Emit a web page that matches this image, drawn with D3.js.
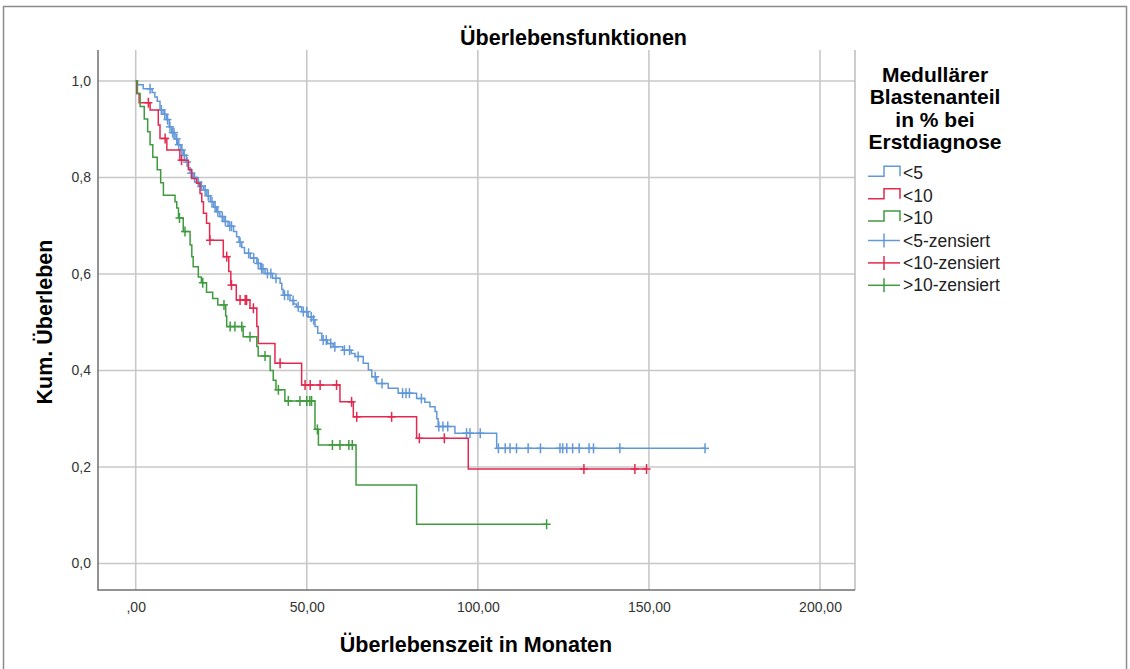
<!DOCTYPE html>
<html><head><meta charset="utf-8">
<script src="https://cdn.jsdelivr.net/npm/d3@7"></script>
<style>body{margin:0;background:#fff;} svg{display:block;font-family:Arial,"Liberation Sans",sans-serif;}</style>
</head><body><svg id="c" width="1130" height="669"></svg>
<script>
// ---------- data ----------
const groupNames = ["<5", "<10", ">10"];
const legendTitleLines = ["Medullärer", "Blastenanteil", "in % bei", "Erstdiagnose"];
const xTicks = [0, 50, 100, 150, 200];
const xTickLabels = [",00", "50,00", "100,00", "150,00", "200,00"];
const yTicks = [0, 0.2, 0.4, 0.6, 0.8, 1.0];
const yTickLabels = ["0,0", "0,2", "0,4", "0,6", "0,8", "1,0"];

// group <5
const lt5EventTimes = [0.5,2.2,4.8,5.6,6.3,7.1,8.0,9.0,9.8,10.5,11.5,12.3,13.2,13.9,14.8,15.4,15.9,16.8,17.8,18.8,19.8,20.8,21.8,22.8,23.6,24.6,25.8,27,28.6,29.5,30.2,31,31.8,33.5,35.4,36.5,37.8,40,42.2,42.7,43.1,45.1,46.2,47,48.5,50.4,51.9,52.4,53.2,54.4,56,57.7,60.5,63,64.1,66.5,68,69,70.4,73.8,76.7,82.1,84.5,86,87.5,88,88.4,93.3,105.5];
const lt5Survival = [0.992,0.984,0.976,0.967,0.958,0.94,0.931,0.92,0.905,0.893,0.88,0.868,0.857,0.846,0.832,0.82,0.809,0.80,0.79,0.782,0.774,0.762,0.75,0.739,0.729,0.719,0.709,0.699,0.688,0.677,0.666,0.655,0.643,0.633,0.622,0.611,0.601,0.591,0.581,0.568,0.556,0.545,0.538,0.532,0.522,0.511,0.505,0.491,0.477,0.463,0.456,0.449,0.442,0.435,0.429,0.415,0.401,0.387,0.373,0.363,0.353,0.342,0.334,0.325,0.315,0.30,0.284,0.27,0.2387];
const lt5Censored = [4.2,7.5,8.5,9.3,10,10.8,11.2,12,12.6,13.5,14.2,15,16.2,17.2,18.3,19.2,20.3,21.2,22.3,23.2,24,25.3,26.2,27.5,28,30.5,33,34.5,35.8,36.8,37.2,38.5,39.5,41,43.5,44.5,46,47.5,49,50,51.3,52,54.8,55.7,57,58.2,61,62.5,65,70,72,78,79,80,83.5,88.6,89.8,91.2,96.7,97.7,100.7,106,108,109.4,111.3,114.7,118.3,124,124.8,126,127.7,129.6,132.5,133.8,141.5,166.4];

// group <10
const lt10EventTimes = [0.3,1.0,4.2,6.6,7.1,9.1,12.9,15.4,16.4,17.8,18.8,19.3,19.8,20.7,21.6,25.6,27.2,27.8,29.4,33.4,35.4,35.8,40.7,48.5,59.7,63.6,82.1,97.2];
const lt10Survival = [0.974,0.955,0.94,0.909,0.881,0.857,0.836,0.816,0.798,0.788,0.767,0.75,0.726,0.705,0.67,0.636,0.605,0.577,0.546,0.529,0.491,0.456,0.415,0.37,0.335,0.304,0.2595,0.1958];
const lt10Censored = [3.7,8.6,13.4,21.7,26.6,28,30.5,32,32.4,34.4,42.2,49.5,51,53.9,58.7,63.1,64.6,74.8,82.9,90.2,131,145.9,149.3];

// group >10
const gt10EventTimes = [0.5,1.3,2.5,3.5,4.2,5.0,6.3,7.3,8.1,11.5,12.0,12.5,13.9,15.9,16.4,16.8,18.3,19.2,20.7,22.5,24,26.3,26.6,31.4,35.4,35.8,39.3,40.2,41,43.6,52.4,53.4,64.4,82.1];
const gt10Survival = [0.974,0.947,0.921,0.895,0.868,0.842,0.816,0.789,0.763,0.75,0.737,0.716,0.688,0.66,0.636,0.615,0.594,0.582,0.562,0.549,0.536,0.513,0.491,0.47,0.45,0.43,0.40,0.38,0.36,0.337,0.278,0.2456,0.1627,0.0813];
const gt10Censored = [12.8,14.4,19.6,25.8,27.6,29,31,33.4,37.8,41.7,44.6,48,50,50.9,51.4,53.1,57.5,59.7,62.3,63.3,120.1];

// ---------- styles ----------
const colors = ["#6398d8", "#e3294f", "#3f9b3f"];
const svg = d3.select("#c");
const plot = {left: 98, right: 855, top: 50, bottom: 590};

const x = d3.scaleLinear().domain([0, 200]).range([135.7, 820]);
const y = d3.scaleLinear().domain([0, 1]).range([563.5, 81]);

// outer border
svg.append("rect").attr("x", 3.5).attr("y", 6.5).attr("width", 1123).attr("height", 680)
  .attr("fill", "none").attr("stroke", "#8c8c8c").attr("stroke-width", 1.5);

// grid
const grid = svg.append("g");
grid.selectAll("line.v").data(xTicks).join("line")
  .attr("x1", d => x(d)).attr("x2", d => x(d)).attr("y1", plot.top).attr("y2", plot.bottom)
  .attr("stroke", "#c8c8c8").attr("stroke-width", 1.6);
grid.selectAll("line.h").data(yTicks).join("line")
  .attr("y1", d => y(d)).attr("y2", d => y(d)).attr("x1", plot.left).attr("x2", plot.right)
  .attr("stroke", "#c8c8c8").attr("stroke-width", 1.6);
svg.append("line").attr("x1", plot.right).attr("x2", plot.right).attr("y1", plot.top).attr("y2", plot.bottom)
  .attr("stroke", "#bdbdbd").attr("stroke-width", 1.5);

// axes
const xAxis = svg.append("g").attr("transform", `translate(0,${plot.bottom})`)
  .call(d3.axisBottom(x).tickValues(xTicks).tickFormat((d, i) => xTickLabels[i]).tickSize(0).tickPadding(12));
const yAxis = svg.append("g").attr("transform", `translate(${plot.left},0)`)
  .call(d3.axisLeft(y).tickValues(yTicks).tickFormat((d, i) => yTickLabels[i]).tickSize(0).tickPadding(7));
[xAxis, yAxis].forEach(g => {
  g.select(".domain").remove();
  g.selectAll("text").attr("font-size", 14).attr("fill", "#333").attr("font-family", "Arial, 'Liberation Sans', sans-serif");
});
svg.append("line").attr("x1", plot.left).attr("x2", plot.left).attr("y1", plot.top).attr("y2", plot.bottom + 0.75)
  .attr("stroke", "#6f6f6f").attr("stroke-width", 1.5);
svg.append("line").attr("x1", plot.left).attr("x2", plot.right).attr("y1", plot.bottom).attr("y2", plot.bottom)
  .attr("stroke", "#6f6f6f").attr("stroke-width", 1.5);

// curves
const groups = [
  {times: lt5EventTimes, surv: lt5Survival, cens: lt5Censored},
  {times: lt10EventTimes, surv: lt10Survival, cens: lt10Censored},
  {times: gt10EventTimes, surv: gt10Survival, cens: gt10Censored}
];
const line = d3.line().x(d => x(d[0])).y(d => y(d[1])).curve(d3.curveStepAfter);
function survAt(g, t) {
  let s = 1;
  for (let i = 0; i < g.times.length; i++) if (g.times[i] <= t) s = g.surv[i];
  return s;
}
groups.forEach((g, gi) => {
  const pts = [[0, 1]];
  g.times.forEach((t, i) => pts.push([t, g.surv[i]]));
  const tEnd = Math.max(d3.max(g.times), d3.max(g.cens));
  pts.push([tEnd, g.surv[g.surv.length - 1]]);
  svg.append("path").attr("d", line(pts)).attr("fill", "none")
    .attr("stroke", colors[gi]).attr("stroke-width", 1.5);
  const cg = svg.append("g").attr("stroke", colors[gi]).attr("stroke-width", 1.5);
  g.cens.forEach(t => {
    const cx = x(t), cy = y(survAt(g, t));
    cg.append("line").attr("x1", cx).attr("x2", cx).attr("y1", cy - 5).attr("y2", cy + 5);
    cg.append("line").attr("x1", cx - 4).attr("x2", cx + 4).attr("y1", cy).attr("y2", cy);
  });
});

// titles
svg.append("text").attr("x", 573.5).attr("y", 45).attr("text-anchor", "middle")
  .attr("font-size", 21.5).attr("font-weight", "bold").text("Überlebensfunktionen");
svg.append("text").attr("transform", "translate(52,322) rotate(-90)").attr("text-anchor", "middle")
  .attr("font-size", 21.5).attr("font-weight", "bold").text("Kum. Überleben");
svg.append("text").attr("x", 476).attr("y", 652).attr("text-anchor", "middle")
  .attr("font-size", 21.5).attr("font-weight", "bold").text("Überlebenszeit in Monaten");

// legend
const lg = svg.append("g");
legendTitleLines.forEach((t, i) => {
  lg.append("text").attr("x", 935).attr("y", 82 + i * 22.3).attr("text-anchor", "middle")
    .attr("font-size", 21).attr("font-weight", "bold").text(t);
});
const legendLabels = groupNames.concat(groupNames.map(n => n + "-zensiert"));
legendLabels.forEach((lab, i) => {
  const cy = 173.3 + i * 22.4;
  const col = colors[i % 3];
  if (i < 3) {
    lg.append("path").attr("d", `M868,${cy + 3}H884V${cy - 7}H900V${cy + 3}`)
      .attr("fill", "none").attr("stroke", col).attr("stroke-width", 1.5);
  } else {
    lg.append("line").attr("x1", 868).attr("x2", 900).attr("y1", cy).attr("y2", cy).attr("stroke", col).attr("stroke-width", 1.5);
    lg.append("line").attr("x1", 884).attr("x2", 884).attr("y1", cy - 7).attr("y2", cy + 7).attr("stroke", col).attr("stroke-width", 1.5);
  }
  lg.append("text").attr("x", 903).attr("y", cy).attr("dy", "0.35em")
    .attr("font-size", 17.5).attr("fill", "#222").text(lab);
});
</script></body></html>
